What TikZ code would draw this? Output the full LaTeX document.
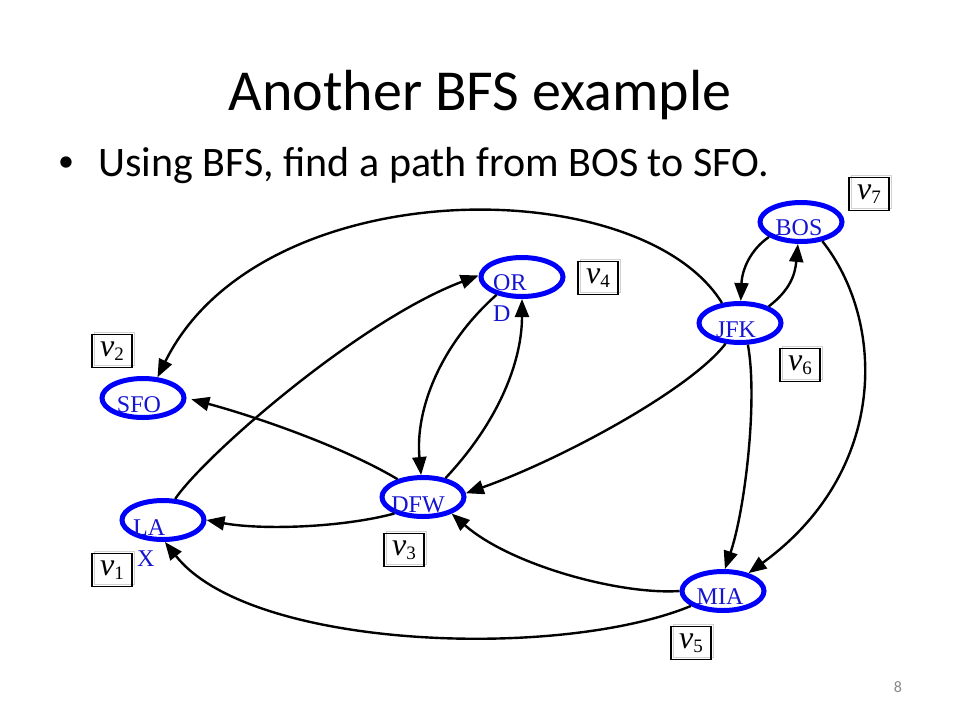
\documentclass[tikz,border=0pt]{standalone}
\usepackage{fontspec}
\setmainfont{Liberation Serif}
\newfontfamily\slidefont{Carlito}
\usetikzlibrary{arrows.meta}
\usetikzlibrary{shapes.geometric}
\usetikzlibrary{shadows}

\definecolor{cityblue}{RGB}{0,0,250}
\definecolor{nameblue}{RGB}{20,20,210}
\definecolor{pagegray}{RGB}{137,137,137}

\newcommand{\vname}[1]{{\fontsize{32}{32}\selectfont\itshape v}\raisebox{-4pt}{\fontsize{19}{19}\selectfont #1}}

\tikzset{
	city/.style={ellipse, draw=cityblue, line width=5pt, minimum width=82pt, minimum height=39pt, inner sep=0pt},
	cityname/.style={text=nameblue, font=\fontsize{24}{31}\selectfont, inner sep=0pt, anchor=base},
	vbox/.style={draw, line width=1.8pt, minimum width=40pt, minimum height=33pt, inner sep=0pt,
		general shadow={shadow xshift=2.5pt, shadow yshift=2.5pt, draw=black!18, line width=0.5pt, fill=none}},
	link/.style={line width=2.4pt, -{Triangle[length=18pt,width=14pt]}}
}

\begin{document}
\begin{tikzpicture}[x=1pt, y=-1pt]
		\fill[white] (0,0) rectangle (960,720);
		\useasboundingbox (0,0) rectangle (960,720);
		
		\node[font=\slidefont\fontsize{58}{58}\selectfont, anchor=base] (title) at (480,110) {Another BFS example};
		\node[font=\slidefont\fontsize{32}{32}\selectfont, anchor=base] (dot) at (66,171) {\textbullet};
		\node[font=\slidefont\fontsize{42}{42}\selectfont, anchor=base west] (task) at (95,176) {Using BFS, find a path from BOS to SFO.};
		\node[font=\slidefont\fontsize{16}{16}\selectfont, text=pagegray, anchor=base] (pagenum) at (898,692) {8};
		
		% airports
		\node[city] (bos) at (801,222) {};
		\node[city] (jfk) at (740,323) {};
		\node[city] (ord) at (522,277) {};
		\node[city] (sfo) at (143,398) {};
		\node[city] (lax) at (163,520) {};
		\node[city] (dfw) at (423,497) {};
		\node[city] (mia) at (723,591) {};
		
		\node[cityname] (bos-name) at (799,235) {BOS};
		\node[cityname] (jfk-name) at (736,337) {JFK};
		\node[cityname, anchor=base west, align=left] (ord-name) at (493,321) {OR\\D};
		\node[cityname] (sfo-name) at (139,412) {SFO};
		\node[cityname, anchor=base west, align=left] (lax-name) at (133,566) {LA\\\,X};
		\node[cityname] (dfw-name) at (418,512) {DFW};
		\node[cityname] (mia-name) at (720,604) {MIA};
		
		% vertex numbers
		\node[vbox] (v1) at (112,570) {\vname{1}};
		\node[vbox] (v2) at (112,351) {\vname{2}};
		\node[vbox] (v3) at (404,550) {\vname{3}};
		\node[vbox] (v4) at (598,278) {\vname{4}};
		\node[vbox] (v5) at (691,643) {\vname{5}};
		\node[vbox] (v6) at (800,365) {\vname{6}};
		\node[vbox] (v7) at (869,194) {\vname{7}};
		
		% flights
		\draw[link] (jfk.132) .. controls (640,170) and (260,170) .. (sfo.55);
		\draw[link] (bos.205) .. controls (750,250) and (742,270) .. (jfk.88);
		\draw[link] (jfk.30) .. controls (790,290) and (795,275) .. (bos.262);
		\draw[link] (bos.318) .. controls (885,320) and (890,470) .. (mia.35);
		\draw[link] (jfk.290) .. controls (758,400) and (745,510) .. (mia.85);
		\draw[link] (jfk.235) .. controls (690,390) and (560,460) .. (dfw.5);
		\draw[link] (ord.215) .. controls (440,345) and (415,410) .. (dfw.95);
		\draw[link] (dfw.40) .. controls (500,420) and (522,360) .. (ord.270);
		\draw[link, shorten >=5pt] (dfw.145) .. controls (340,445) and (250,415) .. (sfo.0);
		\draw[link] (dfw.210) .. controls (340,528) and (260,530) .. (lax.0);
		\draw[link] (lax.60) .. controls (205,455) and (360,320) .. (ord.178);
		\draw[link] (mia.180) .. controls (620,595) and (510,565) .. (dfw.330);
		\draw[link] (mia.205) .. controls (560,660) and (250,650) .. (lax.275);
	\end{tikzpicture}
\end{document}
